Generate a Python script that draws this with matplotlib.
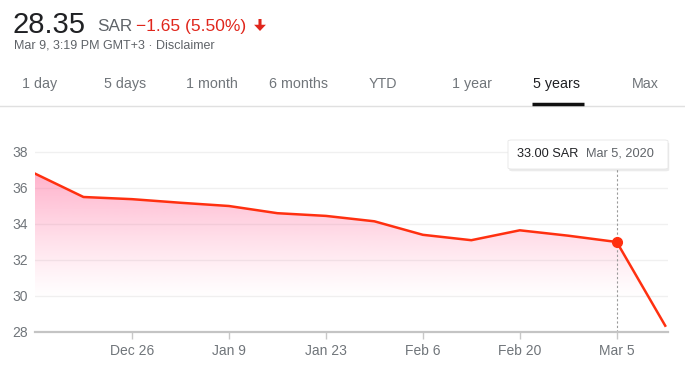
import matplotlib
matplotlib.use('Agg')
import matplotlib.pyplot as plt
import matplotlib.dates as mdates
from matplotlib.patches import FancyBboxPatch, FancyArrowPatch
import numpy as np
from datetime import date

plt.rcParams['font.family'] = ['Liberation Sans', 'DejaVu Sans']

# weekly closes
dates = [date(2019, 12, 12), date(2019, 12, 19), date(2019, 12, 26), date(2020, 1, 2),
         date(2020, 1, 9), date(2020, 1, 16), date(2020, 1, 23), date(2020, 1, 30),
         date(2020, 2, 6), date(2020, 2, 13), date(2020, 2, 20), date(2020, 2, 27),
         date(2020, 3, 5), date(2020, 3, 12)]
prices = [36.8, 35.5, 35.38, 35.18, 35.0, 34.6, 34.45, 34.15,
          33.4, 33.1, 33.65, 33.35, 33.0, 28.35]

tick_dates = [date(2019, 12, 26), date(2020, 1, 9), date(2020, 1, 23),
              date(2020, 2, 6), date(2020, 2, 20), date(2020, 3, 5)]
tick_labels = ['Dec 26', 'Jan 9', 'Jan 23', 'Feb 6', 'Feb 20', 'Mar 5']
y_ticks = [28, 30, 32, 34, 36, 38]

tabs = ['1 day', '5 days', '1 month', '6 months', 'YTD', '1 year', '5 years', 'Max']
tab_x = [22, 104, 186, 269, 369, 452, 533, 632]
active_tab = '5 years'

hover_idx = 12

W, H = 685, 367
fig = plt.figure(figsize=(W / 100, H / 100), dpi=100)


def fx(x):
    return x / W


def fy(y):
    return 1 - y / H


gray = '#70757a'
red_line = '#ff3010'
red_text = '#e0261c'

# header
fig.text(fx(12), fy(33), '28.35', fontsize=21, color='#202124', va='baseline')
fig.text(fx(97), fy(31), 'SAR', fontsize=12.3, color='#5f6368', va='baseline')
fig.text(fx(136), fy(31), '\u22121.65 (5.50%)', fontsize=12.5, color=red_text, va='baseline')
arrow = FancyArrowPatch((fx(260), fy(19)), (fx(260), fy(31)), transform=fig.transFigure,
                        arrowstyle='simple,head_width=0.85,head_length=0.45,tail_width=0.22',
                        mutation_scale=10, color=red_text, lw=0, shrinkA=0, shrinkB=0)
fig.add_artist(arrow)
fig.text(fx(14), fy(45), 'Mar 9, 3:19 PM GMT+3 \u00b7 Disclaimer', fontsize=9,
         color='#5f6368', va='center')

# range tabs
for label, x in zip(tabs, tab_x):
    c = '#202124' if label == active_tab else gray
    fig.text(fx(x), fy(84), label, fontsize=10.3, color=c, va='center')
fig.add_artist(plt.Line2D([0, 1], [fy(106), fy(106)], color='#e0e0e0', lw=1,
                          transform=fig.transFigure))
fig.add_artist(plt.Line2D([fx(532), fx(584)], [fy(104), fy(104)], color='#111111', lw=2.5,
                          transform=fig.transFigure, solid_capstyle='butt'))

# chart
ax = fig.add_axes([fx(35), fy(332), fx(668) - fx(35), (332 - 140) / H])
xs = mdates.date2num(dates)
ys = np.array(prices)

y0, y1 = 28, 38 + 12 / 18
ax.set_ylim(y0, y1)
ax.set_xlim(xs[0], xs[-1] + 0.4)

# gradient fill under the line
yy = np.linspace(y1, y0, 256).reshape(-1, 1)
alpha = np.clip((yy - 29.8) / (37.0 - 29.8), 0, 1) ** 1.2 * 0.52
img = np.zeros((256, 1, 4))
img[..., 0] = 1.0
img[..., 1] = 0.4
img[..., 2] = 0.6
img[..., 3] = alpha
im = ax.imshow(img, extent=[xs[0], xs[-1] + 0.4, y0, y1], aspect='auto', zorder=1,
               origin='upper')
poly = ax.fill_between(xs, ys, y0, color='none', lw=0)
clip = poly.get_paths()[0]
im.set_clip_path(clip, transform=ax.transData)

ax.plot(xs, ys, color=red_line, lw=1.8, zorder=3, solid_joinstyle='round')

for yv in y_ticks[1:]:
    ax.axhline(yv, color='#f0f0f0', lw=1, zorder=0)

# hover marker and guide
ax.axvline(xs[hover_idx], ymin=0, ymax=(332 - 169) / 192, color='#9a9a9a', lw=0.8,
           linestyle=(0, (2, 2)), zorder=2)
ax.plot(xs[hover_idx], ys[hover_idx], 'o', color=red_line, markersize=7, zorder=4)

ax.set_yticks(y_ticks)
ax.set_yticklabels([str(v) for v in y_ticks])
ax.set_xticks(mdates.date2num(tick_dates))
ax.set_xticklabels(tick_labels)
ax.tick_params(axis='y', length=0, pad=5, labelsize=10, labelcolor=gray)
ax.tick_params(axis='x', length=5, width=1, color='#c8c8c8', pad=3.5, labelsize=10,
               labelcolor=gray)
for s in ['top', 'right', 'left']:
    ax.spines[s].set_visible(False)
ax.spines['bottom'].set_color('#c4c4c4')
ax.spines['bottom'].set_linewidth(1.6)
ax.set_facecolor('none')

# tooltip
bx0, bx1 = (508 - 35) / 633, 1.0
by0, by1 = (332 - 169) / 192, 1.0
shadow = FancyBboxPatch((bx0 + 0.002, by0 - 0.012), bx1 - bx0, by1 - by0,
                        boxstyle='round,pad=0,rounding_size=0.006', transform=ax.transAxes,
                        facecolor='#000000', alpha=0.08, edgecolor='none', clip_on=False,
                        zorder=5)
box = FancyBboxPatch((bx0, by0), bx1 - bx0, by1 - by0,
                     boxstyle='round,pad=0,rounding_size=0.006', transform=ax.transAxes,
                     facecolor='white', edgecolor='#e6e6e6', lw=0.6, clip_on=False, zorder=6)
ax.add_patch(shadow)
ax.add_patch(box)
fig.text(fx(517), fy(154), f'{prices[hover_idx]:.2f} SAR', fontsize=9.2, color='#202124',
         va='center', zorder=7)
fig.text(fx(586), fy(154), 'Mar 5, 2020', fontsize=9.2, color='#5f6368', va='center',
         zorder=7)

fig.savefig('out.png', dpi=100)
